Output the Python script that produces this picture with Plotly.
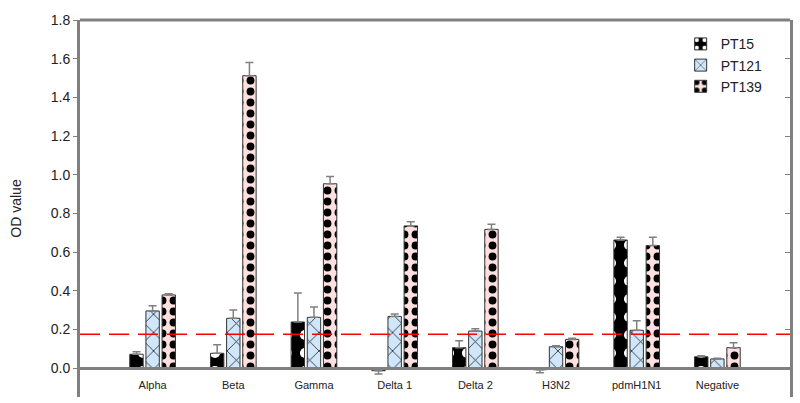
import plotly.graph_objects as go

categories = ["Alpha", "Beta", "Gamma", "Delta 1", "Delta 2", "H3N2", "pdmH1N1", "Negative"]
series_names = ["PT15", "PT121", "PT139"]
pt15 = [0.071, 0.076, 0.238, -0.014, 0.105, -0.009, 0.662, 0.058]
pt15_err = [0.013, 0.044, 0.150, 0.017, 0.036, 0.015, 0.014, 0.006]
pt121 = [0.295, 0.257, 0.262, 0.267, 0.191, 0.110, 0.195, 0.047]
pt121_err = [0.027, 0.043, 0.054, 0.012, 0.012, 0.005, 0.050, 0.004]
pt139 = [0.378, 1.512, 0.953, 0.735, 0.717, 0.148, 0.633, 0.105]
pt139_err = [0.006, 0.068, 0.037, 0.022, 0.026, 0.006, 0.043, 0.026]
cutoff = 0.175
y_ticks = [0.0, 0.2, 0.4, 0.6, 0.8, 1.0, 1.2, 1.4, 1.6, 1.8]

xs = list(range(len(categories)))

styles = [
    dict(color="black", pattern=dict(shape=".", fgcolor="white", bgcolor="black", fgopacity=1,
                                     size=18, solidity=0.25)),
    dict(color="#cfe6fb", pattern=dict(shape="x", fgcolor="#222222", bgcolor="#cfe6fb", fgopacity=1,
                                       size=13, solidity=0.12)),
    dict(color="#fde0df", pattern=dict(shape=".", fgcolor="black", bgcolor="#fde0df", fgopacity=1,
                                       size=11, solidity=0.4)),
]

fig = go.Figure()
for name, vals, errs, st in zip(series_names, [pt15, pt121, pt139], [pt15_err, pt121_err, pt139_err], styles):
    up = [e if v >= 0 else 0 for v, e in zip(vals, errs)]
    down = [e if v < 0 else 0 for v, e in zip(vals, errs)]
    fig.add_trace(go.Bar(
        x=xs, y=vals, name=name,
        marker=dict(color=st["color"], pattern=st["pattern"], line=dict(color="#333333", width=1)),
        error_y=dict(type="data", array=up, arrayminus=down, symmetric=False,
                     color="#808080", thickness=1.5, width=4),
    ))

fig.add_shape(type="line", xref="paper", x0=0, x1=1, yref="y", y0=cutoff, y1=cutoff,
              line=dict(color="red", width=1.5, dash="20px,9px"))
# top frame line
fig.add_shape(type="line", xref="paper", x0=0, x1=1, yref="paper", y0=1, y1=1,
              line=dict(color="#808080", width=3))

ymin, ymax = -0.15, 1.8
fig.update_layout(
    width=800, height=403,
    margin=dict(l=80, r=10, t=20, b=6),
    plot_bgcolor="white", paper_bgcolor="white",
    barmode="group", bargap=0.4, bargroupgap=0.17,
    font=dict(family="Liberation Sans, Arial", color="#222222"),
    showlegend=True,
    legend=dict(x=0.846, y=0.978, xanchor="left", yanchor="top",
                font=dict(size=14), bgcolor="rgba(0,0,0,0)", tracegroupgap=0),
    xaxis=dict(range=[-0.9, 7.9], tickmode="array", tickvals=xs, ticktext=categories,
               anchor="free", position=(0 - ymin) / (ymax - ymin), automargin=False,
               showline=True, linecolor="#808080", linewidth=3,
               ticks="outside", ticklen=6, tickcolor="rgba(0,0,0,0)",
               tickfont=dict(size=11), showgrid=False, zeroline=False),
    yaxis=dict(range=[ymin, ymax], tickmode="array", tickvals=y_ticks, automargin=False,
               tickformat=".1f", showline=True, linecolor="#808080", linewidth=3,
               ticks="outside", ticklen=4, tickcolor="#808080", tickwidth=1,
               tickfont=dict(size=14), showgrid=False, zeroline=False,
               title=dict(text="OD value", font=dict(size=14), standoff=26)),
    yaxis2=dict(range=[ymin, ymax], overlaying="y", side="right", tickmode="array",
                tickvals=y_ticks, showticklabels=False, showline=True, automargin=False,
                linecolor="#808080", linewidth=3, ticks="inside", ticklen=5,
                tickcolor="#808080", tickwidth=1, showgrid=False, zeroline=False),
)
fig.add_trace(go.Scatter(x=[None], y=[None], yaxis="y2", showlegend=False, hoverinfo="skip"))

fig.write_html("out.html", config={"displayModeBar": False},
               post_script="document.body.style.margin='0';document.body.style.padding='0';")
